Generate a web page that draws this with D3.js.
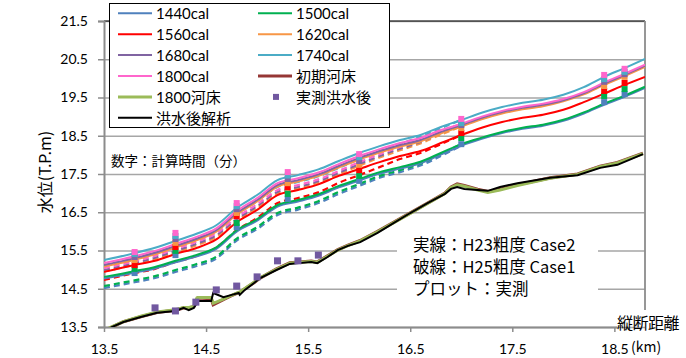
<!DOCTYPE html>
<html>
<head>
<meta charset="utf-8">
<script src="https://cdn.jsdelivr.net/npm/d3@7/dist/d3.min.js"></script>
<style>
  html, body { margin: 0; padding: 0; background: #fff; }
  svg { display: block; }
  text { font-family: Lato, "Noto Sans CJK JP", sans-serif; fill: #000; }
  .jp { font-family: "Noto Sans CJK JP", sans-serif; }
</style>
</head>
<body>
<svg id="chart" width="686" height="358"></svg>
<script>
// ---- longitudinal distance (km) for the computed water-level profiles ----
const km = [13.5, 13.8, 14.0, 14.2, 14.4, 14.6, 14.8, 15.0, 15.2, 15.4, 15.6, 15.8, 16.0, 16.2,
            16.4, 16.6, 16.8, 17.0, 17.2, 17.4, 17.6, 17.8, 18.0, 18.2, 18.4, 18.6, 18.8];

// solid lines: H23 roughness (Case2), water level per computation time (min)
const wl1440 = [14.77,14.92,15.03,15.19,15.34,15.54,15.99,16.28,16.65,16.78,16.93,17.15,17.33,17.51,17.64,17.78,18.01,18.24,18.42,18.57,18.68,18.76,18.89,19.08,19.31,19.52,19.75];
const wl1500 = [14.81,14.96,15.07,15.23,15.38,15.58,16.03,16.32,16.69,16.82,16.97,17.19,17.37,17.55,17.68,17.82,18.05,18.28,18.45,18.60,18.71,18.79,18.92,19.11,19.34,19.55,19.78];
const wl1560 = [14.94,15.12,15.23,15.41,15.56,15.79,16.24,16.56,16.95,17.08,17.23,17.45,17.63,17.81,17.97,18.10,18.31,18.52,18.71,18.86,18.97,19.05,19.18,19.38,19.60,19.83,20.04];
const wl1620 = [15.08,15.26,15.40,15.58,15.76,15.99,16.44,16.78,17.17,17.30,17.45,17.67,17.88,18.06,18.22,18.35,18.56,18.74,18.93,19.08,19.19,19.27,19.40,19.58,19.83,20.06,20.30];
const wl1680 = [15.12,15.30,15.44,15.62,15.80,16.03,16.48,16.82,17.21,17.34,17.49,17.71,17.92,18.10,18.26,18.39,18.60,18.78,18.97,19.12,19.23,19.31,19.43,19.61,19.86,20.09,20.33];
const wl1740 = [15.25,15.43,15.57,15.75,15.93,16.16,16.61,16.95,17.34,17.47,17.62,17.84,18.05,18.23,18.39,18.52,18.73,18.91,19.10,19.25,19.36,19.44,19.57,19.77,20.04,20.27,20.51];
const wl1800 = [15.17,15.35,15.49,15.67,15.85,16.08,16.53,16.87,17.26,17.39,17.54,17.76,17.97,18.15,18.31,18.44,18.65,18.81,19.00,19.15,19.26,19.34,19.46,19.64,19.89,20.12,20.36];

// dashed lines: H25 roughness (Case1), 13.5–17.0 km (identical to Case2 further upstream)
const kmCase1 = [13.5, 13.8, 14.0, 14.2, 14.4, 14.6, 14.8, 15.0, 15.2, 15.4, 15.6, 15.8, 16.0, 16.2, 16.4, 16.6, 16.8, 17.0];
const c1_1440 = [14.52,14.67,14.78,14.94,15.09,15.29,15.76,16.06,16.43,16.57,16.74,16.98,17.19,17.40,17.55,17.72,17.97,18.24];
const c1_1500 = [14.57,14.72,14.83,14.99,15.14,15.34,15.81,16.11,16.48,16.62,16.79,17.03,17.24,17.45,17.60,17.77,18.02,18.28];
const c1_1560 = [14.73,14.91,15.02,15.20,15.35,15.58,16.03,16.35,16.74,16.87,17.02,17.27,17.47,17.68,17.89,18.05,18.28,18.52];
const c1_1620 = [14.95,15.13,15.27,15.45,15.63,15.86,16.28,16.62,16.99,17.12,17.27,17.49,17.72,17.93,18.12,18.30,18.53,18.74];
const c1_1680 = [14.99,15.17,15.31,15.49,15.67,15.90,16.32,16.66,17.03,17.16,17.31,17.53,17.76,17.97,18.16,18.34,18.57,18.78];
const c1_1740 = [15.12,15.30,15.44,15.62,15.80,16.03,16.45,16.79,17.16,17.29,17.44,17.66,17.89,18.10,18.29,18.47,18.70,18.91];
const c1_1800 = [15.04,15.22,15.36,15.54,15.72,15.95,16.37,16.71,17.08,17.21,17.36,17.58,17.81,18.02,18.21,18.39,18.62,18.81];

// observed water levels at gauging points, per time
const obsKm = [13.8, 14.2, 14.8, 15.3, 16.0, 17.0, 18.4, 18.6];
const obs1440 = [14.91,15.38,16.11,16.85,17.32,18.28,19.38,19.59];
const obs1500 = [15.02,15.49,16.22,16.98,17.45,18.44,19.54,19.72];
const obs1560 = [15.12,15.59,16.40,17.16,17.60,18.57,19.67,19.88];
const obs1620 = [15.25,15.70,16.48,17.26,17.74,18.70,19.80,20.04];
const obs1680 = [15.33,15.80,16.58,17.37,17.84,18.78,19.91,20.11];
const obs1740 = [15.41,15.88,16.66,17.46,17.94,18.83,19.98,20.17];
const obs1800 = [15.46,15.96,16.74,17.55,18.02,18.94,20.09,20.25];

// river-bed profiles
const bedKm = [13.50,13.58,13.69,13.86,14.02,14.20,14.28,14.33,14.38,14.41,14.42,14.55,14.57,14.67,14.75,14.82,14.83,14.88,14.97,15.03,15.19,15.32,15.41,15.53,15.59,15.69,15.79,15.89,16.01,16.18,16.34,16.50,16.67,16.84,16.90,16.96,17.03,17.16,17.26,17.38,17.55,17.87,18.14,18.36,18.53,18.78];
const bedInitial = [13.40,13.50,13.64,13.77,13.88,13.94,14.00,14.00,14.03,14.20,14.26,14.24,14.08,14.22,14.32,14.40,14.40,14.50,14.66,14.78,15.02,15.18,15.20,15.22,15.20,15.36,15.52,15.64,15.76,16.00,16.24,16.48,16.74,17.00,17.16,17.24,17.20,17.10,17.04,17.10,17.22,17.40,17.50,17.70,17.80,18.04];
const bed1800 = [13.41,13.51,13.64,13.78,13.89,13.95,14.01,14.01,14.04,14.26,14.27,14.27,14.12,14.23,14.33,14.41,14.41,14.51,14.67,14.79,15.01,15.17,15.19,15.21,15.19,15.35,15.51,15.63,15.75,15.99,16.23,16.47,16.73,16.99,17.15,17.22,17.18,17.08,17.02,17.08,17.20,17.39,17.49,17.69,17.79,18.03];
const bedPostCalc = [13.40,13.50,13.63,13.76,13.87,13.92,14.00,13.94,14.00,14.13,14.18,14.18,14.39,14.28,14.34,14.39,14.34,14.47,14.65,14.78,14.99,15.15,15.17,15.20,15.17,15.33,15.51,15.62,15.72,15.96,16.22,16.48,16.74,16.98,17.11,17.16,17.11,17.08,17.06,17.16,17.26,17.40,17.47,17.66,17.74,18.02];

// surveyed bed after the flood
const surveyKm = [14.0, 14.2, 14.4, 14.6, 14.8, 15.0, 15.2, 15.4, 15.6];
const surveyBed = [14.00, 13.92, 14.15, 14.47, 14.57, 14.81, 15.23, 15.23, 15.38];

const xTicks = [13.5, 14.5, 15.5, 16.5, 17.5, 18.5];
const yTicks = [13.5, 14.5, 15.5, 16.5, 17.5, 18.5, 19.5, 20.5, 21.5];

const calNames = ["1440cal", "1500cal", "1560cal", "1620cal", "1680cal", "1740cal", "1800cal"];
const calColors = ["#4f81bd", "#00b050", "#ff0000", "#f79646", "#8064a2", "#4bacc6", "#ff66cc"];
const case2 = [wl1440, wl1500, wl1560, wl1620, wl1680, wl1740, wl1800];
const case1 = [c1_1440, c1_1500, c1_1560, c1_1620, c1_1680, c1_1740, c1_1800];
const observed = [obs1440, obs1500, obs1560, obs1620, obs1680, obs1740, obs1800];

// ---- layout ----
const svg = d3.select("#chart");
const L = 104, R = 645, T = 21, B = 327;
const x = d3.scaleLinear().domain([13.5, 18.8]).range([L, R]);
const y = d3.scaleLinear().domain([13.5, 21.5]).range([B, T]);

svg.append("defs").append("clipPath").attr("id", "plot")
  .append("rect").attr("x", L).attr("y", T).attr("width", R - L).attr("height", B - T);

// gridlines
svg.append("g")
  .attr("transform", `translate(${L},0)`)
  .call(d3.axisLeft(y).tickValues(yTicks).tickSize(-(R - L)).tickFormat(""))
  .call(g => g.select(".domain").remove())
  .call(g => g.selectAll("line").attr("stroke", "#a6a6a6").attr("stroke-width", 1.5));

// frame: top and right
svg.append("line").attr("x1", L).attr("x2", R).attr("y1", T).attr("y2", T)
  .attr("stroke", "#000").attr("stroke-width", 1.2);
svg.append("line").attr("x1", R).attr("x2", R).attr("y1", T).attr("y2", 310)
  .attr("stroke", "#8c8c8c").attr("stroke-width", 1.8);

// y axis
const yAxis = svg.append("g").attr("transform", `translate(${L},0)`)
  .call(d3.axisLeft(y).tickValues(yTicks).tickSize(6).tickPadding(10).tickFormat(d3.format(".1f")));
yAxis.select(".domain").attr("stroke", "#8c8c8c").attr("stroke-width", 2);
yAxis.selectAll(".tick line").attr("stroke", "#8c8c8c").attr("stroke-width", 1.5);
yAxis.selectAll("text").attr("font-size", 14).attr("font-family", "Lato, sans-serif").attr("fill", "#000");

// x axis
const xAxis = svg.append("g").attr("transform", `translate(0,${B})`)
  .call(d3.axisBottom(x).tickValues(xTicks).tickSize(5).tickSizeOuter(0).tickPadding(12).tickFormat(d3.format(".1f")));
xAxis.select(".domain").attr("stroke", "#8c8c8c").attr("stroke-width", 2).attr("d", `M${L},0.5H617`);
xAxis.selectAll(".tick line").attr("stroke", "#8c8c8c").attr("stroke-width", 1.5);
xAxis.selectAll("text").attr("font-size", 14).attr("font-family", "Lato, sans-serif").attr("fill", "#000");

// axis titles
svg.append("text").attr("class", "jp")
  .attr("transform", "translate(44,172) rotate(-90)")
  .attr("text-anchor", "middle").attr("dominant-baseline", "central")
  .attr("font-size", 16).text("水位(T.P.m)");
svg.append("text").attr("class", "jp").attr("x", 617).attr("y", 329)
  .attr("font-size", 16).attr("letter-spacing", -0.5).text("縦断距離");
svg.append("text").attr("class", "jp").attr("x", 631).attr("y", 352)
  .attr("font-size", 14).text("(km)");

// annotation boxes (white backing hides gridlines)
svg.append("rect").attr("x", 397).attr("y", 232).attr("width", 201).attr("height", 68).attr("fill", "#fff");
const notes = ["実線：H23粗度 Case2", "破線：H25粗度 Case1", "プロット：実測"];
svg.append("g").selectAll("text").data(notes).join("text")
  .attr("class", "jp").attr("x", 413).attr("y", (d, i) => 251 + i * 22)
  .attr("font-size", 16.5).text(d => d);

svg.append("rect").attr("x", 106).attr("y", 146).attr("width", 150).attr("height", 26).attr("fill", "#fff");
svg.append("text").attr("class", "jp").attr("x", 111).attr("y", 166)
  .attr("font-size", 13.5).text("数字：計算時間（分）");

// ---- data marks ----
const plot = svg.append("g").attr("clip-path", "url(#plot)");
const linePts = (xs, ys) => xs.map((k, i) => [x(k), y(ys[i])]);
const smooth = d3.line().curve(d3.curveMonotoneX);
const straight = d3.line();

// bed profiles
plot.append("path").attr("d", straight(linePts(bedKm, bedInitial)))
  .attr("fill", "none").attr("stroke", "#953735").attr("stroke-width", 3.2);
plot.append("path").attr("d", straight(linePts(bedKm, bed1800)))
  .attr("fill", "none").attr("stroke", "#9bbb59").attr("stroke-width", 3);
plot.append("path").attr("d", straight(linePts(bedKm, bedPostCalc)))
  .attr("fill", "none").attr("stroke", "#000").attr("stroke-width", 2);

// surveyed bed points
plot.append("g").selectAll("rect").data(surveyKm).join("rect")
  .attr("x", (d) => x(d) - 3.5).attr("y", (d, i) => y(surveyBed[i]) - 3.5)
  .attr("width", 7).attr("height", 7).attr("fill", "#7158a0");

// Case1 dashed
case1.forEach((vals, s) => {
  plot.append("path").attr("d", smooth(linePts(kmCase1, vals)))
    .attr("fill", "none").attr("stroke", calColors[s]).attr("stroke-width", 2.2)
    .attr("stroke-dasharray", "6,4");
});
// Case2 solid
case2.forEach((vals, s) => {
  plot.append("path").attr("d", smooth(linePts(km, vals)))
    .attr("fill", "none").attr("stroke", calColors[s]).attr("stroke-width", 2);
});
// observed water levels
observed.forEach((vals, s) => {
  plot.append("g").selectAll("rect").data(obsKm).join("rect")
    .attr("x", d => x(d) - 3).attr("y", (d, i) => y(vals[i]) - 3)
    .attr("width", 6).attr("height", 6).attr("fill", calColors[s]);
});

// ---- legend ----
const lg = svg.append("g");
lg.append("rect").attr("x", 109.5).attr("y", 3.5).attr("width", 280).attr("height", 124)
  .attr("fill", "#fff").attr("stroke", "#000").attr("stroke-width", 1);
const legendItems = [
  { name: "1440cal", color: calColors[0], w: 2, type: "line" },
  { name: "1500cal", color: calColors[1], w: 2, type: "line" },
  { name: "1560cal", color: calColors[2], w: 2, type: "line" },
  { name: "1620cal", color: calColors[3], w: 2, type: "line" },
  { name: "1680cal", color: calColors[4], w: 2, type: "line" },
  { name: "1740cal", color: calColors[5], w: 2, type: "line" },
  { name: "1800cal", color: calColors[6], w: 2, type: "line" },
  { name: "初期河床", color: "#953735", w: 3, type: "line" },
  { name: "1800河床", color: "#9bbb59", w: 3, type: "line" },
  { name: "実測洪水後", color: "#7158a0", w: 0, type: "marker" },
  { name: "洪水後解析", color: "#000", w: 2, type: "line" }
];
legendItems.forEach((d, i) => {
  const col = i % 2, row = Math.floor(i / 2);
  const x0 = col === 0 ? 118 : 258;
  const cy = 13.3 + row * 20.9;
  if (d.type === "line") {
    lg.append("line").attr("x1", x0).attr("x2", x0 + 34).attr("y1", cy).attr("y2", cy)
      .attr("stroke", d.color).attr("stroke-width", d.w);
  } else {
    lg.append("rect").attr("x", x0 + 15).attr("y", cy - 3).attr("width", 6).attr("height", 6)
      .attr("fill", d.color);
  }
  lg.append("text").attr("x", x0 + 38).attr("y", cy).attr("dominant-baseline", "central")
    .attr("font-size", 15).text(d.name);
});
</script>
</body>
</html>
